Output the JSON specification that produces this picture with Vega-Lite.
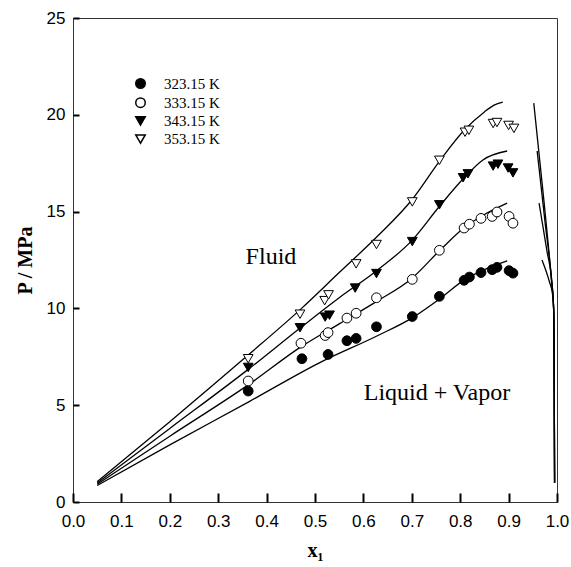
{
  "$schema": "https://vega.github.io/schema/vega-lite/v6.json",
  "width": 484,
  "height": 484,
  "autosize": {"type": "none"},
  "padding": {"left": 73, "top": 18, "right": 14, "bottom": 65},
  "background": "white",
  "config": {
    "view": {"stroke": "#333", "strokeWidth": 1},
    "axis": {"grid": false, "domain": false, "zindex": 2, "labelColor": "black", "labelFont": "Liberation Sans", "labelFontSize": 17, "titleFont": "Liberation Serif", "titleFontWeight": "bold", "titleFontSize": 20, "titleColor": "black", "labelOverlap": false, "labelFlush": false}
  },
  "datasets": {
    "pts": [
      {"T": "323.15 K", "x": 0.362, "p": 5.73}, {"T": "323.15 K", "x": 0.473, "p": 7.4}, {"T": "323.15 K", "x": 0.527, "p": 7.62}, {"T": "323.15 K", "x": 0.566, "p": 8.33}, {"T": "323.15 K", "x": 0.585, "p": 8.45}, {"T": "323.15 K", "x": 0.627, "p": 9.05}, {"T": "323.15 K", "x": 0.701, "p": 9.58}, {"T": "323.15 K", "x": 0.757, "p": 10.62}, {"T": "323.15 K", "x": 0.808, "p": 11.45}, {"T": "323.15 K", "x": 0.819, "p": 11.62}, {"T": "323.15 K", "x": 0.843, "p": 11.85}, {"T": "323.15 K", "x": 0.866, "p": 12.0}, {"T": "323.15 K", "x": 0.876, "p": 12.12}, {"T": "323.15 K", "x": 0.901, "p": 11.95}, {"T": "323.15 K", "x": 0.909, "p": 11.82},
      {"T": "333.15 K", "x": 0.362, "p": 6.25}, {"T": "333.15 K", "x": 0.471, "p": 8.2}, {"T": "333.15 K", "x": 0.521, "p": 8.6}, {"T": "333.15 K", "x": 0.527, "p": 8.75}, {"T": "333.15 K", "x": 0.566, "p": 9.5}, {"T": "333.15 K", "x": 0.585, "p": 9.75}, {"T": "333.15 K", "x": 0.627, "p": 10.55}, {"T": "333.15 K", "x": 0.701, "p": 11.5}, {"T": "333.15 K", "x": 0.757, "p": 13.0}, {"T": "333.15 K", "x": 0.808, "p": 14.15}, {"T": "333.15 K", "x": 0.819, "p": 14.35}, {"T": "333.15 K", "x": 0.843, "p": 14.65}, {"T": "333.15 K", "x": 0.866, "p": 14.75}, {"T": "333.15 K", "x": 0.876, "p": 14.98}, {"T": "333.15 K", "x": 0.901, "p": 14.75}, {"T": "333.15 K", "x": 0.909, "p": 14.4},
      {"T": "343.15 K", "x": 0.362, "p": 6.95}, {"T": "343.15 K", "x": 0.469, "p": 9.0}, {"T": "343.15 K", "x": 0.521, "p": 9.55}, {"T": "343.15 K", "x": 0.53, "p": 9.65}, {"T": "343.15 K", "x": 0.583, "p": 11.05}, {"T": "343.15 K", "x": 0.627, "p": 11.8}, {"T": "343.15 K", "x": 0.701, "p": 13.45}, {"T": "343.15 K", "x": 0.757, "p": 15.35}, {"T": "343.15 K", "x": 0.806, "p": 16.75}, {"T": "343.15 K", "x": 0.816, "p": 16.95}, {"T": "343.15 K", "x": 0.868, "p": 17.35}, {"T": "343.15 K", "x": 0.878, "p": 17.45}, {"T": "343.15 K", "x": 0.899, "p": 17.25}, {"T": "343.15 K", "x": 0.909, "p": 17.0},
      {"T": "353.15 K", "x": 0.362, "p": 7.4}, {"T": "353.15 K", "x": 0.469, "p": 9.7}, {"T": "353.15 K", "x": 0.52, "p": 10.4}, {"T": "353.15 K", "x": 0.528, "p": 10.7}, {"T": "353.15 K", "x": 0.585, "p": 12.3}, {"T": "353.15 K", "x": 0.627, "p": 13.3}, {"T": "353.15 K", "x": 0.701, "p": 15.5}, {"T": "353.15 K", "x": 0.757, "p": 17.65}, {"T": "353.15 K", "x": 0.81, "p": 19.1}, {"T": "353.15 K", "x": 0.818, "p": 19.2}, {"T": "353.15 K", "x": 0.868, "p": 19.55}, {"T": "353.15 K", "x": 0.876, "p": 19.6}, {"T": "353.15 K", "x": 0.9, "p": 19.45}, {"T": "353.15 K", "x": 0.911, "p": 19.3}
    ],
    "curves": [
      {"c": "b353", "o": 1, "x": 0.05, "p": 1.05}, {"c": "b353", "o": 2, "x": 0.2, "p": 4.15}, {"c": "b353", "o": 3, "x": 0.36, "p": 7.55}, {"c": "b353", "o": 4, "x": 0.47, "p": 9.95}, {"c": "b353", "o": 5, "x": 0.55, "p": 11.85}, {"c": "b353", "o": 6, "x": 0.63, "p": 13.75}, {"c": "b353", "o": 7, "x": 0.7, "p": 15.6}, {"c": "b353", "o": 8, "x": 0.76, "p": 17.7}, {"c": "b353", "o": 9, "x": 0.81, "p": 19.25}, {"c": "b353", "o": 10, "x": 0.85, "p": 20.15}, {"c": "b353", "o": 11, "x": 0.87, "p": 20.5}, {"c": "b353", "o": 12, "x": 0.888, "p": 20.66},
      {"c": "b343", "o": 1, "x": 0.05, "p": 0.98}, {"c": "b343", "o": 2, "x": 0.2, "p": 3.8}, {"c": "b343", "o": 3, "x": 0.362, "p": 6.85}, {"c": "b343", "o": 4, "x": 0.47, "p": 9.0}, {"c": "b343", "o": 5, "x": 0.55, "p": 10.55}, {"c": "b343", "o": 6, "x": 0.63, "p": 12.0}, {"c": "b343", "o": 7, "x": 0.7, "p": 13.5}, {"c": "b343", "o": 8, "x": 0.758, "p": 15.3}, {"c": "b343", "o": 9, "x": 0.81, "p": 16.8}, {"c": "b343", "o": 10, "x": 0.847, "p": 17.67}, {"c": "b343", "o": 11, "x": 0.897, "p": 18.13},
      {"c": "b333", "o": 1, "x": 0.05, "p": 0.92}, {"c": "b333", "o": 2, "x": 0.2, "p": 3.4}, {"c": "b333", "o": 3, "x": 0.365, "p": 6.1}, {"c": "b333", "o": 4, "x": 0.47, "p": 8.0}, {"c": "b333", "o": 5, "x": 0.55, "p": 9.2}, {"c": "b333", "o": 6, "x": 0.63, "p": 10.4}, {"c": "b333", "o": 7, "x": 0.7, "p": 11.55}, {"c": "b333", "o": 8, "x": 0.758, "p": 13.0}, {"c": "b333", "o": 9, "x": 0.81, "p": 14.2}, {"c": "b333", "o": 10, "x": 0.85, "p": 14.85}, {"c": "b333", "o": 11, "x": 0.897, "p": 15.44},
      {"c": "b323", "o": 1, "x": 0.05, "p": 0.85}, {"c": "b323", "o": 2, "x": 0.2, "p": 2.95}, {"c": "b323", "o": 3, "x": 0.365, "p": 5.2}, {"c": "b323", "o": 4, "x": 0.51, "p": 7.2}, {"c": "b323", "o": 5, "x": 0.63, "p": 8.6}, {"c": "b323", "o": 6, "x": 0.7, "p": 9.5}, {"c": "b323", "o": 7, "x": 0.758, "p": 10.5}, {"c": "b323", "o": 8, "x": 0.81, "p": 11.5}, {"c": "b323", "o": 9, "x": 0.85, "p": 12.0}, {"c": "b323", "o": 10, "x": 0.897, "p": 12.45},
      {"c": "d353", "o": 1, "x": 0.952, "p": 20.6}, {"c": "d353", "o": 2, "x": 0.972, "p": 15.8}, {"c": "d353", "o": 3, "x": 0.988, "p": 11.6}, {"c": "d353", "o": 4, "x": 0.993, "p": 10.0}, {"c": "d353", "o": 5, "x": 0.994, "p": 8.0}, {"c": "d353", "o": 6, "x": 0.995, "p": 1.0},
      {"c": "d343", "o": 1, "x": 0.959, "p": 18.13}, {"c": "d343", "o": 2, "x": 0.976, "p": 14.3}, {"c": "d343", "o": 3, "x": 0.989, "p": 11.4}, {"c": "d343", "o": 4, "x": 0.993, "p": 10.0}, {"c": "d343", "o": 5, "x": 0.994, "p": 8.0}, {"c": "d343", "o": 6, "x": 0.995, "p": 1.0},
      {"c": "d333", "o": 1, "x": 0.963, "p": 15.44}, {"c": "d333", "o": 2, "x": 0.979, "p": 13.0}, {"c": "d333", "o": 3, "x": 0.99, "p": 11.2}, {"c": "d333", "o": 4, "x": 0.993, "p": 10.0}, {"c": "d333", "o": 5, "x": 0.994, "p": 8.0}, {"c": "d333", "o": 6, "x": 0.995, "p": 1.0},
      {"c": "d323", "o": 1, "x": 0.969, "p": 12.5}, {"c": "d323", "o": 2, "x": 0.984, "p": 11.4}, {"c": "d323", "o": 3, "x": 0.991, "p": 10.7}, {"c": "d323", "o": 4, "x": 0.993, "p": 10.0}, {"c": "d323", "o": 5, "x": 0.994, "p": 8.0}, {"c": "d323", "o": 6, "x": 0.995, "p": 1.0}
    ],
    "notes": [
      {"x": 0.409, "p": 12.65, "label": "Fluid"},
      {"x": 0.752, "p": 5.63, "label": "Liquid + Vapor"}
    ]
  },
  "layer": [
    {
      "data": {"name": "curves"},
      "mark": {"type": "line", "color": "black", "strokeWidth": 1.3, "interpolate": "monotone"},
      "encoding": {
        "x": {"field": "x", "type": "quantitative", "scale": {"domain": [0, 1], "nice": false},
          "axis": {"title": "x₁", "values": [0, 0.1, 0.2, 0.3, 0.4, 0.5, 0.6, 0.7, 0.8, 0.9, 1.0], "format": ".1f", "tickColor": "black", "tickWidth": 2, "tickSize": -9, "labelPadding": 20, "titleX": 242, "titleY": 48, "titleAlign": "center", "titleBaseline": "middle"}},
        "y": {"field": "p", "type": "quantitative", "scale": {"domain": [0, 25], "nice": false},
          "axis": {"title": "P / MPa", "values": [0, 5, 10, 15, 20, 25], "tickColor": "black", "tickWidth": 2, "tickSize": -6, "labelPadding": 14, "titleX": -48, "titleY": 242, "titleAngle": 270, "titleAlign": "center", "titleBaseline": "middle"}},
        "detail": {"field": "c"},
        "order": {"field": "o"}
      }
    },
    {
      "data": {"name": "pts"},
      "mark": {"type": "point", "filled": true, "strokeWidth": 1, "opacity": 1},
      "encoding": {
        "x": {"field": "x", "type": "quantitative"},
        "y": {"field": "p", "type": "quantitative"},
        "shape": {"field": "T", "type": "nominal", "scale": {"domain": ["323.15 K", "333.15 K", "343.15 K", "353.15 K"], "range": ["circle", "circle", "triangle-down", "triangle-down"]},
          "legend": {"title": null, "orient": "none", "legendX": 60, "legendY": 58, "labelFont": "Liberation Serif", "labelFontSize": 15, "labelColor": "black", "labelOffset": 16, "rowPadding": 2.2, "padding": 0, "symbolSize": 90}},
        "fill": {"field": "T", "type": "nominal", "scale": {"domain": ["323.15 K", "333.15 K", "343.15 K", "353.15 K"], "range": ["black", "white", "black", "white"]},
          "legend": {"title": null, "orient": "none", "legendX": 60, "legendY": 58, "labelFont": "Liberation Serif", "labelFontSize": 15, "labelColor": "black", "labelOffset": 16, "rowPadding": 2.2, "padding": 0, "symbolSize": 90}},
        "stroke": {"field": "T", "type": "nominal", "scale": {"domain": ["323.15 K", "333.15 K", "343.15 K", "353.15 K"], "range": ["black", "black", "black", "black"]},
          "legend": {"title": null, "orient": "none", "legendX": 60, "legendY": 58, "labelFont": "Liberation Serif", "labelFontSize": 15, "labelColor": "black", "labelOffset": 16, "rowPadding": 2.2, "padding": 0, "symbolSize": 90}},
        "size": {"value": 95}
      }
    },
    {
      "data": {"name": "notes"},
      "mark": {"type": "text", "font": "Liberation Serif", "fontSize": 24, "color": "black", "align": "center", "baseline": "middle"},
      "encoding": {
        "x": {"field": "x", "type": "quantitative"},
        "y": {"field": "p", "type": "quantitative"},
        "text": {"field": "label"}
      }
    }
  ]
}
